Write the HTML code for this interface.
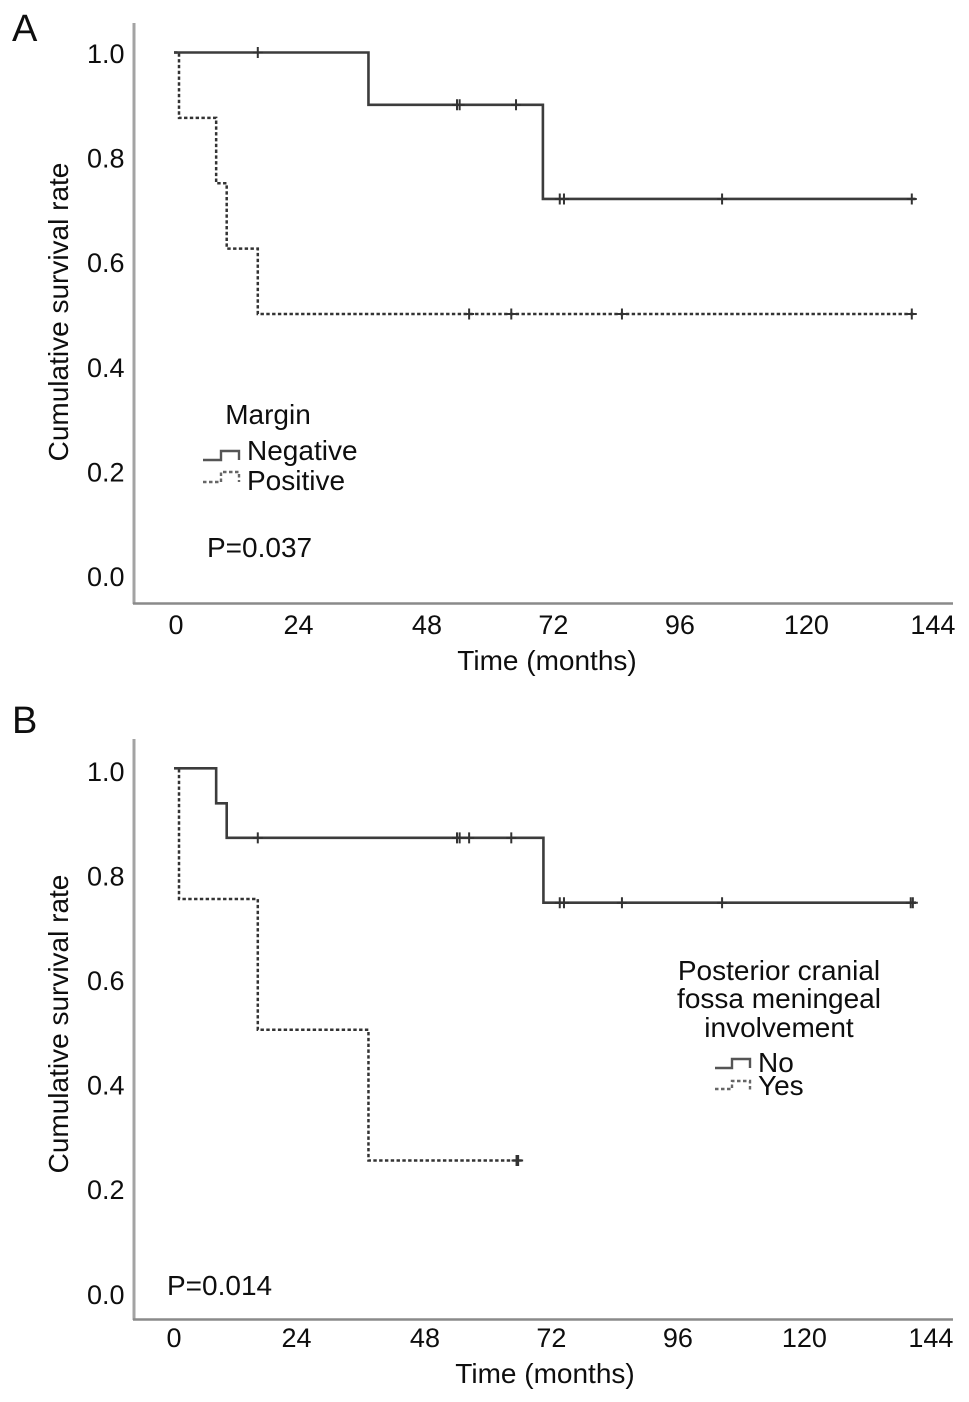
<!DOCTYPE html>
<html lang="en">
<head>
<meta charset="utf-8">
<title>Kaplan-Meier survival curves</title>
<style>
html,body{margin:0;padding:0;background:#fff;}
svg{display:block;}
text{font-family:"Liberation Sans",sans-serif;font-size:28px;fill:#0e0e0e;}
.tick{font-size:27px;}
.letter{font-size:38px;}
</style>
</head>
<body>
<svg id="chart" width="969" height="1402" viewBox="0 0 969 1402" xmlns="http://www.w3.org/2000/svg">
  <rect width="969" height="1402" fill="#ffffff"/>

  <g id="panel-a">
    <text class="letter" x="12" y="41">A</text>
    <line x1="134" y1="23" x2="134" y2="604" stroke="#a3a3a3" stroke-width="3"/>
    <line x1="133" y1="603.5" x2="953" y2="603.5" stroke="#8a8a8a" stroke-width="2.5"/>
    <text transform="translate(68,312) rotate(-90)" text-anchor="middle">Cumulative survival rate</text>
    <text x="547" y="670" text-anchor="middle">Time (months)</text>
    <text x="268" y="424" text-anchor="middle">Margin</text>
    <path d="M203 460H221V451H239V460" fill="none" stroke="#555" stroke-width="2.4"/>
    <text x="247" y="460">Negative</text>
    <path d="M203 482H221V472H239V482" fill="none" stroke="#666" stroke-width="2.4" stroke-dasharray="3.5 2.5"/>
    <text x="247" y="490">Positive</text>
    <text x="207" y="557">P=0.037</text>
  </g>

  <g id="panel-b">
    <text class="letter" x="12" y="733">B</text>
    <line x1="134" y1="739" x2="134" y2="1320" stroke="#a3a3a3" stroke-width="3"/>
    <line x1="133" y1="1319.5" x2="953" y2="1319.5" stroke="#8a8a8a" stroke-width="2.5"/>
    <text transform="translate(68,1024) rotate(-90)" text-anchor="middle">Cumulative survival rate</text>
    <text x="545" y="1383" text-anchor="middle">Time (months)</text>
    <text x="779" y="980" text-anchor="middle">Posterior cranial</text>
    <text x="779" y="1008" text-anchor="middle">fossa meningeal</text>
    <text x="779" y="1037" text-anchor="middle">involvement</text>
    <path d="M715 1068H732V1059H750V1068" fill="none" stroke="#555" stroke-width="2.4"/>
    <text x="758" y="1072">No</text>
    <path d="M715 1089H732V1081H750V1090" fill="none" stroke="#666" stroke-width="2.4" stroke-dasharray="3.5 2.5"/>
    <text x="758" y="1095">Yes</text>
    <text x="167" y="1295">P=0.014</text>
  </g>
</svg>

<script>
const xTickLabels = [0, 24, 48, 72, 96, 120, 144];
const yTickLabels = [1.0, 0.8, 0.6, 0.4, 0.2, 0.0];

// Panel A: Margin
const negativeStepTimes = [36.9, 70.0];
const negativeSurvival = [1.0, 0.9, 0.72];
const negativeEndTime = 140.7;
const negativeCensored = [15.9, 53.7, 54.2, 64.9, 73.2, 74.0, 104.0, 140.0];

const positiveStepTimes = [0.95, 8.0, 10.0, 15.9];
const positiveSurvival = [1.0, 0.875, 0.75, 0.625, 0.5];
const positiveEndTime = 140.7;
const positiveCensored = [56.0, 64.0, 85.0, 140.0];

// Panel B: Posterior cranial fossa meningeal involvement
const noStepTimes = [8.0, 10.0, 70.1];
const noSurvival = [1.0, 0.933, 0.867, 0.743];
const noEndTime = 140.8;
const noCensored = [15.9, 53.7, 54.2, 56.0, 64.0, 73.2, 74.0, 85.0, 104.0, 139.8, 140.2];

const yesStepTimes = [0.95, 15.9, 36.9];
const yesSurvival = [1.0, 0.75, 0.5, 0.25];
const yesEndTime = 66.0;
const yesCensored = [65.0, 65.3];

const SVG_NS = 'http://www.w3.org/2000/svg';

function xScale(t) { return 174 + t * 5.27; }
function yScaleA(v) { return 575.5 - v * 523; }
function yScaleB(v) { return 1291.3 - v * 523; }

// The first two x labels sit slightly off the regular tick spacing in the figure.
function labelNudge(t) {
  if (t === 0) { return 2; }
  if (t === 24) { return -2; }
  return 0;
}

function stepPath(times, surv, endTime, yScale) {
  let d = 'M' + xScale(0) + ' ' + yScale(surv[0]);
  times.forEach(function (t, i) {
    d += 'H' + xScale(t) + 'V' + yScale(surv[i + 1]);
  });
  return d + 'H' + xScale(endTime);
}

function drawAxisLabels(group, yScale, xLabelY, xLabelShift, yLabelShift) {
  xTickLabels.forEach(function (t) {
    const el = document.createElementNS(SVG_NS, 'text');
    
    
    el.setAttribute('class', 'tick');
    el.setAttribute('text-anchor', 'middle');
    el.setAttribute('x', xScale(t) + xLabelShift + labelNudge(t));
    el.setAttribute('y', xLabelY);
    el.textContent = String(t);
    group.appendChild(el);
  });
  yTickLabels.forEach(function (v) {
    const el = document.createElementNS(SVG_NS, 'text');
    
    
    el.setAttribute('class', 'tick');
    el.setAttribute('text-anchor', 'end');
    el.setAttribute('x', 124.5);
    el.setAttribute('y', yScale(v) + yLabelShift);
    el.textContent = v.toFixed(1);
    group.appendChild(el);
  });
}

function survivalAt(t, times, surv) {
  let s = surv[0];
  times.forEach(function (st, i) {
    if (t >= st) { s = surv[i + 1]; }
  });
  return s;
}

function drawSeries(group, times, surv, endTime, censored, yScale, dashed) {
  const line = document.createElementNS(SVG_NS, 'path');
  
  
  line.setAttribute('d', stepPath(times, surv, endTime, yScale));
  line.setAttribute('fill', 'none');
  line.setAttribute('stroke', dashed ? '#333333' : '#3c3c3c');
  line.setAttribute('stroke-width', dashed ? '2.5' : '2.6');
  if (dashed) { line.setAttribute('stroke-dasharray', '3.4 2.4'); }
  group.appendChild(line);
  censored.forEach(function (t) {
    const cx = xScale(t);
    const cy = yScale(survivalAt(t, times, surv));
    const mark = document.createElementNS(SVG_NS, 'path');
    
    
    mark.setAttribute('d', 'M' + cx + ' ' + (cy - 5.5) + 'V' + (cy + 5.5) + 'M' + (cx - 5) + ' ' + cy + 'H' + (cx + 5));
    mark.setAttribute('fill', 'none');
    mark.setAttribute('stroke', '#333333');
    mark.setAttribute('stroke-width', '2');
    group.appendChild(mark);
  });
}

const panelA = document.getElementById('panel-a');
const panelB = document.getElementById('panel-b');

drawAxisLabels(panelA, yScaleA, 634, 0, 10.5);
drawAxisLabels(panelB, yScaleB, 1347, -2, 12.5);

drawSeries(panelA, positiveStepTimes, positiveSurvival, positiveEndTime, positiveCensored, yScaleA, true);
drawSeries(panelA, negativeStepTimes, negativeSurvival, negativeEndTime, negativeCensored, yScaleA, false);
drawSeries(panelB, yesStepTimes, yesSurvival, yesEndTime, yesCensored, yScaleB, true);
drawSeries(panelB, noStepTimes, noSurvival, noEndTime, noCensored, yScaleB, false);
</script>
</body>
</html>
